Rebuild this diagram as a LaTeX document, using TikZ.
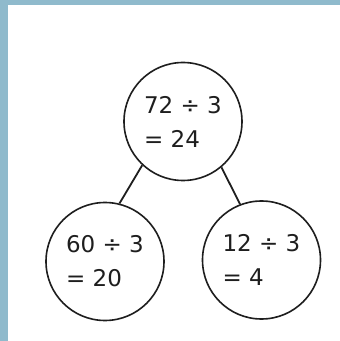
\documentclass[tikz,border=0pt]{standalone}
\usepackage{fontspec}
\setmainfont{DejaVu Sans}
\usepackage{xcolor}
\definecolor{frameblue}{RGB}{143,186,204}
\definecolor{inkgray}{RGB}{30,30,30}

\begin{document}
\begin{tikzpicture}[
  x=1pt, y=1pt,
  bubble/.style={draw=inkgray, circle, line width=1.6pt, minimum size=118pt, inner sep=0pt,
    align=left, text=inkgray, font=\fontsize{23}{34}\selectfont},
  link/.style={draw=inkgray, line width=1.8pt}
]
% frame
\fill[white] (0,0) rectangle (340,341);
\fill[frameblue] (0,0) rectangle (8,341);
\fill[frameblue] (0,336) rectangle (340,341);
\useasboundingbox (0,0) rectangle (340,341);

\node[bubble] (whole) at (183,219.5) {72 ÷ 3\\= 24};
\node[bubble] (partA) at (105,79.5) {60 ÷ 3\\= 20};
\node[bubble] (partB) at (261.5,81) {12 ÷ 3\\= 4};

\draw[link] (whole.227) -- (partA.76);
\draw[link] (whole.310) -- (partB.111);
\end{tikzpicture}
\end{document}
